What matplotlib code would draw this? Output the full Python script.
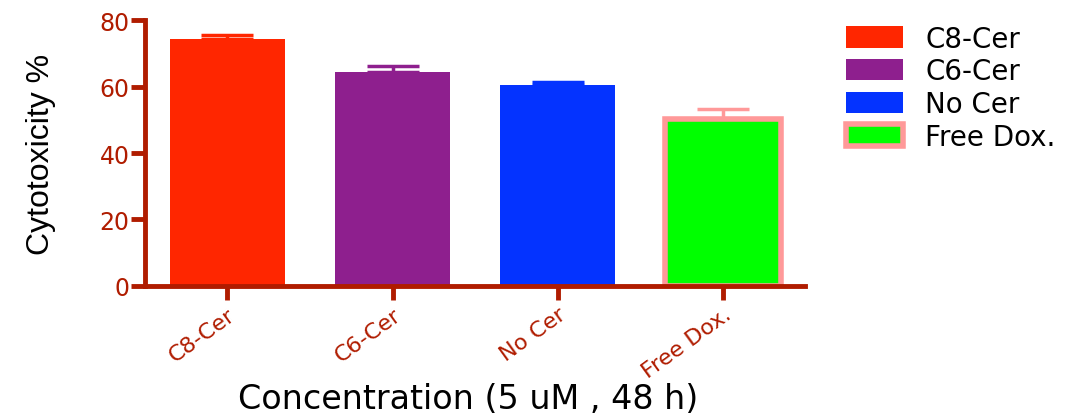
import matplotlib
matplotlib.use('Agg')
import matplotlib.pyplot as plt
import numpy as np

groups = ['C8-Cer', 'C6-Cer', 'No Cer', 'Free Dox.']
means = [74.3, 64.3, 60.5, 50.2]
errs = [1.3, 2.0, 0.8, 3.0]
fills = ['#FF2600', '#8E1F8E', '#0433FF', '#00FF00']
edges = ['#FF2600', '#8E1F8E', '#0433FF', '#FF9999']
axcol = '#B01C00'

plt.rcParams['font.family'] = ['DejaVu Sans']

fig = plt.figure(figsize=(10.81, 4.14), dpi=100)
ax = fig.add_axes([0.134, 0.307, 0.611, 0.642])

x = np.arange(len(groups))
for i in range(len(groups)):
    lw = 4 if i == 3 else 0
    ax.bar(x[i], means[i], width=0.7, color=fills[i], edgecolor=edges[i],
           linewidth=lw, label=groups[i], zorder=2)
    ax.errorbar(x[i], means[i], yerr=[[0], [errs[i]]], color=edges[i],
                capsize=19, elinewidth=2.5, capthick=2.5, zorder=1)

ax.set_xlim(-0.5, 3.5)
ax.set_ylim(0, 80)
ax.set_yticks([0, 20, 40, 60, 80])
ax.set_xticks(x)
ax.set_xticklabels(groups, rotation=36, ha='right', rotation_mode='anchor')

for s in ['top', 'right']:
    ax.spines[s].set_visible(False)
for s in ['left', 'bottom']:
    ax.spines[s].set_color(axcol)
    ax.spines[s].set_linewidth(3.5)
ax.tick_params(colors=axcol, width=3.5, length=10, labelsize=17)
ax.tick_params(axis='y', pad=1)
ax.tick_params(axis='x', pad=3, labelsize=16)

ax.set_ylabel('Cytotoxicity %', fontsize=23, family=['Liberation Sans Narrow', 'Liberation Sans'])
ax.yaxis.set_label_coords(-0.135, 0.5)
ax.set_xlabel('Concentration (5 uM , 48 h)', fontsize=24)
ax.xaxis.set_label_coords(0.49, -0.36)

ax.legend(loc='upper left', bbox_to_anchor=(1.045, 1.025), frameon=False, fontsize=20,
          handlelength=2.05, handleheight=0.8, labelspacing=0.17, handletextpad=0.8,
          borderaxespad=0)

fig.savefig('out.png', dpi=100)
